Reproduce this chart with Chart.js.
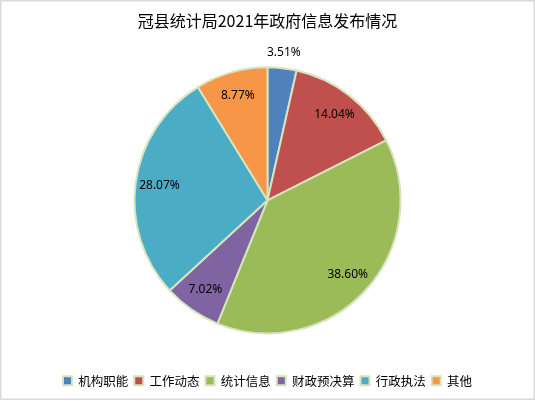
<!DOCTYPE html>
<html>
<head>
<meta charset="utf-8">
<script src="https://cdn.jsdelivr.net/npm/chart.js@4"></script>
<style>
  html, body { margin: 0; padding: 0; background: #fff; }
  #wrap { width: 535px; height: 401px; position: relative; }
</style>
</head>
<body>
<div id="wrap"><canvas id="pie"></canvas></div>
<script>
// ── Data ───────────────────────────────────────────────
const TITLE      = '冠县统计局2021年政府信息发布情况';
const CATEGORIES = ['机构职能', '工作动态', '统计信息', '财政预决算', '行政执法', '其他'];
const PERCENTS   = [3.51, 14.04, 38.60, 7.02, 28.07, 8.77];
const COLORS     = ['#4F81BD', '#C0504D', '#9BBB59', '#8064A2', '#4BACC6', '#F79646'];

// ── Percent labels drawn at each slice's mid angle ─────
const sliceLabels = {
  id: 'sliceLabels',
  afterDatasetsDraw(chart, args, opts) {
    const { ctx } = chart;
    const meta = chart.getDatasetMeta(0);
    ctx.save();
    ctx.font = opts.font;
    ctx.fillStyle = opts.color;
    ctx.textAlign = 'center';
    ctx.textBaseline = 'middle';
    meta.data.forEach((arc, i) => {
      const { x, y, startAngle, endAngle, outerRadius } = arc.getProps(['x', 'y', 'startAngle', 'endAngle', 'outerRadius'], true);
      const mid = (startAngle + endAngle) / 2;
      const r = opts.outside[i] ? outerRadius + opts.outsideGap : outerRadius * opts.inside;
      const text = chart.data.datasets[0].data[i].toFixed(2) + '%';
      ctx.fillText(text, x + Math.cos(mid) * r, y + Math.sin(mid) * r);
    });
    ctx.restore();
  }
};

// ── Thin grey frame round the chart ────────────────────
const frame = {
  id: 'frame',
  afterDraw(chart) {
    const { ctx, width, height } = chart;
    ctx.save();
    ctx.strokeStyle = '#D9D9D9';
    ctx.lineWidth = 1.5;
    ctx.strokeRect(0.75, 0.75, width - 1.5, height - 2.5);
    ctx.restore();
  }
};

new Chart(document.getElementById('pie'), {
  type: 'pie',
  data: {
    labels: CATEGORIES,
    datasets: [{
      data: PERCENTS,
      backgroundColor: COLORS,
      borderColor: '#D7E4BD',
      borderWidth: 2,
      radius: 133
    }]
  },
  options: {
    responsive: true,
    maintainAspectRatio: false,
    animation: false,
    layout: { padding: { top: 0, bottom: 4, left: 0, right: 0 } },
    plugins: {
      title: {
        display: true,
        text: TITLE,
        color: '#000',
        font: { family: '"Noto Sans CJK SC"', size: 16, weight: 'normal' },
        padding: { top: 11, bottom: 2 }
      },
      legend: {
        position: 'bottom',
        labels: {
          color: '#000',
          font: { family: '"Noto Sans CJK SC"', size: 12.5 },
          boxWidth: 9,
          boxHeight: 9,
          padding: 6
        }
      },
      tooltip: { enabled: false },
      sliceLabels: {
        font: '12px "Noto Sans"',
        color: '#000',
        inside: 0.82,
        outside: [true, false, false, false, false, false],
        outsideGap: 16
      }
    }
  },
  plugins: [sliceLabels, frame]
});
</script>
</body>
</html>
